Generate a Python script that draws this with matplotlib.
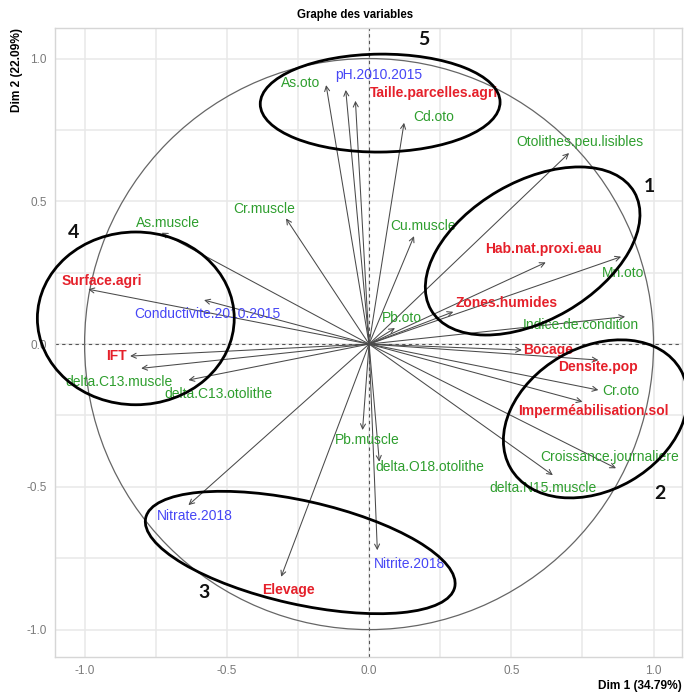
import matplotlib
matplotlib.use("Agg")
import matplotlib.pyplot as plt
from matplotlib.patches import Ellipse, Circle
import numpy as np

# Variable coordinates on the first two principal components
variables = [
    "As.oto", "pH.2010.2015", "Taille.parcelles.agri", "Cd.oto",
    "Otolithes.peu.lisibles", "Hab.nat.proxi.eau", "Mn.oto", "Zones.humides",
    "Indice.de.condition", "Cu.muscle", "Pb.oto", "Bocage", "Densite.pop",
    "Cr.oto", "Imperméabilisation.sol", "Croissance.journaliere",
    "delta.N15.muscle", "Pb.muscle", "delta.O18.otolithe", "Nitrate.2018",
    "Elevage", "Nitrite.2018", "Cr.muscle", "As.muscle", "Surface.agri",
    "Conductivite.2010.2015", "IFT", "delta.C13.muscle", "delta.C13.otolithe",
]
dim1 = [-0.151, -0.082, -0.048, 0.123, 0.703, 0.621, 0.886, 0.296, 0.900,
        0.158, 0.091, 0.537, 0.806, 0.806, 0.750, 0.868, 0.646, -0.023,
        0.036, -0.635, -0.309, 0.029, -0.292, -0.729, -0.987, -0.580,
        -0.840, -0.801, -0.635]
dim2 = [0.907, 0.890, 0.852, 0.775, 0.669, 0.286, 0.306, 0.113, 0.096,
        0.378, 0.056, -0.021, -0.056, -0.161, -0.202, -0.435, -0.459,
        -0.301, -0.412, -0.564, -0.815, -0.722, 0.440, 0.390, 0.192, 0.154,
        -0.042, -0.085, -0.126]
# Variable type: fish measures, landscape / land-use, water quality
groups = ["fish", "water", "land", "fish", "fish", "land", "fish", "land",
          "fish", "fish", "fish", "land", "land", "fish", "land", "fish",
          "fish", "fish", "fish", "water", "land", "water", "fish", "fish",
          "land", "water", "land", "fish", "fish"]

pct_dim1 = 34.79
pct_dim2 = 22.09

# Label placement (repelled positions)
label_pos = [
    (-0.239, 0.913), (0.035, 0.941), (0.228, 0.879), (0.228, 0.795),
    (0.742, 0.708), (0.612, 0.333), (0.893, 0.249), (0.485, 0.144),
    (0.745, 0.067), (0.190, 0.413), (0.116, 0.091), (0.629, -0.021),
    (0.805, -0.081), (0.886, -0.165), (0.787, -0.235), (0.847, -0.396),
    (0.612, -0.504), (-0.007, -0.336), (0.214, -0.431), (-0.612, -0.602),
    (-0.285, -0.862), (0.141, -0.771), (-0.369, 0.473), (-0.707, 0.424),
    (-0.938, 0.221), (-0.569, 0.105), (-0.889, -0.042), (-0.879, -0.133),
    (-0.531, -0.176),
]

group_style = {
    "fish": dict(color="#2E9E2E", fontweight="normal"),
    "water": dict(color="#4646F5", fontweight="normal"),
    "land": dict(color="#E5202A", fontweight="bold"),
}

# Hand-drawn clusters: centre, width, height, angle, number, number position
clusters = [
    ((0.575, 0.326), 0.825, 0.485, 30.0, "1", (0.984, 0.553)),
    ((0.796, -0.262), 0.690, 0.500, 30.0, "2", (1.023, -0.522)),
    ((-0.242, -0.730), 1.113, 0.362, -12.6, "3", (-0.580, -0.869)),
    ((-0.820, 0.090), 0.692, 0.605, 0.0, "4", (-1.040, 0.392)),
    ((0.039, 0.844), 0.843, 0.343, 0.5, "5", (0.193, 1.068)),
]

plt.rcParams["font.family"] = ["Liberation Sans", "DejaVu Sans"]

fig = plt.figure(figsize=(6.84, 6.92), dpi=100)
ax = fig.add_axes([55 / 684, 35 / 692, 627 / 684, 629 / 692])

ax.set_xlim(-1.104, 1.100)
ax.set_ylim(-1.096, 1.107)

major = [-1.0, -0.5, 0.0, 0.5, 1.0]
minor = [-0.75, -0.25, 0.25, 0.75]
ax.set_xticks(major)
ax.set_yticks(major)
ax.set_xticks(minor, minor=True)
ax.set_yticks(minor, minor=True)
ax.set_xticklabels([f"{v:.1f}" for v in major])
ax.set_yticklabels([f"{v:.1f}" for v in major])
ax.grid(True, which="both", color="#E8E8E8", lw=1.1)
ax.set_axisbelow(True)
ax.tick_params(which="both", length=0, labelsize=8.5, labelcolor="#7A7A7A",
               pad=6)
for sp in ax.spines.values():
    sp.set_color("#D6D6D6")
    sp.set_linewidth(1.0)

# Reference lines and correlation circle
ax.axhline(0, color="#555555", lw=0.8, ls=(0, (3, 3)), zorder=1)
ax.axvline(0, color="#555555", lw=0.8, ls=(0, (3, 3)), zorder=1)
ax.add_patch(Circle((0, 0), 1.0, fill=False, ec="#666666", lw=0.9, zorder=2))

# Arrows and labels
for name, x, y, g, (lx, ly) in zip(variables, dim1, dim2, groups, label_pos):
    ax.annotate("", xy=(x, y), xytext=(0, 0),
                arrowprops=dict(arrowstyle="->", color="#4A4A4A", lw=0.75,
                                mutation_scale=9, shrinkA=0, shrinkB=0),
                zorder=3)
    ax.text(lx, ly, name, ha="center", va="center", fontsize=10,
            zorder=4, **group_style[g])

# Cluster ellipses and numbers
for (cx, cy), w, h, ang, num, (nx, ny) in clusters:
    ax.add_patch(Ellipse((cx, cy), w, h, angle=ang, fill=False, ec="black",
                         lw=2.0, zorder=5, clip_on=False))
    ax.text(nx, ny, num, ha="center", va="center", fontsize=14,
            fontweight="bold", family=["Lato", "DejaVu Sans"],
            color="#111111", zorder=6, clip_on=False)

fig.text(355 / 684, 1 - 15 / 692, "Graphe des variables", ha="center",
         va="center", fontsize=8.3, fontweight="bold")
fig.text(682 / 684, 1 - 686 / 692, f"Dim 1 ({pct_dim1:.2f}%)", ha="right",
         va="center", fontsize=8.6, fontweight="bold")
fig.text(17 / 684, 1 - 28 / 692, f"Dim 2 ({pct_dim2:.2f}%)", ha="center",
         va="top", rotation=90, fontsize=8.6, fontweight="bold")

fig.savefig("out.png", dpi=100)
